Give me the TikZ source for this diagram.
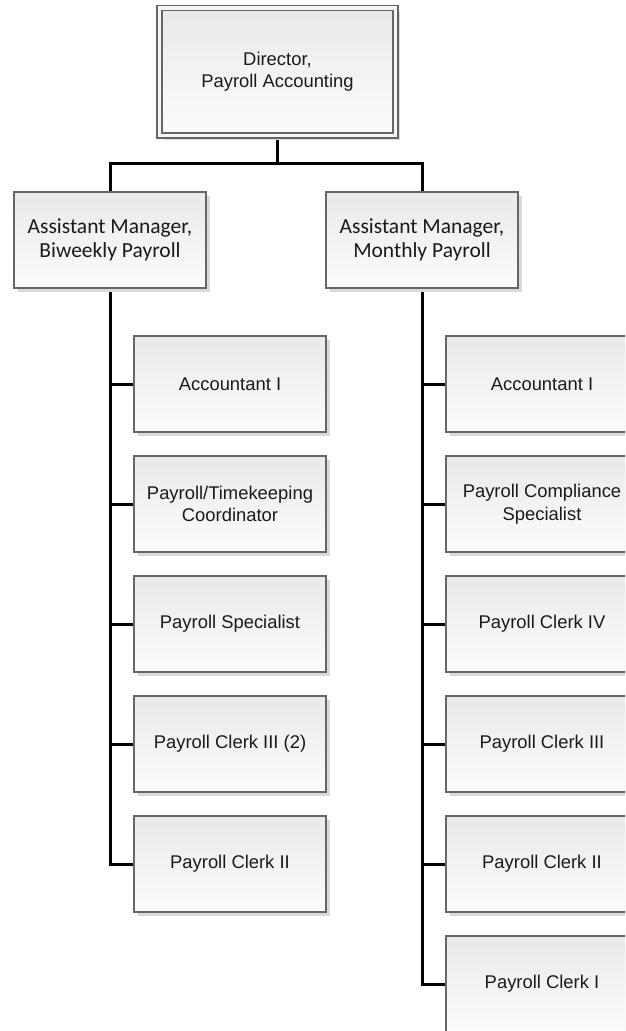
\documentclass[tikz,border=0pt]{standalone}
\usepackage{fontspec}
\setmainfont{Liberation Sans}
\newfontfamily\calibrifont{Carlito}
\usetikzlibrary{shadows,backgrounds}
\definecolor{boxtop}{HTML}{E9E9E9}
\definecolor{boxbot}{HTML}{FCFCFC}
\definecolor{boxborder}{HTML}{666666}
\definecolor{shadowc}{HTML}{DADADA}
\definecolor{textc}{HTML}{1A1A1A}
\begin{document}
\begin{tikzpicture}[x=1pt,y=-1pt,
  orgbox/.style={draw=boxborder, line width=1.2pt, top color=boxtop, bottom color=boxbot,
    minimum width=192pt, minimum height=96pt, align=center, inner sep=0pt, text=textc,
    font=\fontsize{18.4}{22.5}\selectfont,
    drop shadow={shadow xshift=4pt, shadow yshift=-4pt, fill=shadowc, opacity=1}},
  mgrbox/.style={orgbox, font=\calibrifont\fontsize{21.5}{24}\selectfont},
  dirbox/.style={orgbox, minimum width=236pt, minimum height=127.5pt, line width=1.3pt,
    double=white!96!black, double distance=3.7pt},
  conn/.style={draw=black, line width=3pt}]
\clip (0,0) rectangle (625,1031);

\node[dirbox] (dir) at (277.5,71.75) {Director,\\Payroll Accounting};
\node[mgrbox] (amL) at (110,240) {Assistant Manager,\\Biweekly Payroll};
\node[mgrbox] (amR) at (422,240) {Assistant Manager,\\Monthly Payroll};

\node[orgbox] (l1) at (230,384) {Accountant I};
\node[orgbox] (l2) at (230,504) {Payroll/Timekeeping\\Coordinator};
\node[orgbox] (l3) at (230,624) {Payroll Specialist};
\node[orgbox] (l4) at (230,744) {Payroll Clerk III (2)};
\node[orgbox] (l5) at (230,864) {Payroll Clerk II};

\node[orgbox] (r1) at (542,384) {Accountant I};
\node[orgbox] (r2) at (542,504) {Payroll Compliance\\Specialist};
\node[orgbox] (r3) at (542,624) {Payroll Clerk IV};
\node[orgbox] (r4) at (542,744) {Payroll Clerk III};
\node[orgbox] (r5) at (542,864) {Payroll Clerk II};
\node[orgbox] (r6) at (542,984) {Payroll Clerk I};

\coordinate (bus) at (277.5,163);

\begin{pgfonlayer}{background}
\draw[conn] (dir.south) -- (bus);
\draw[conn] (amL.north) |- (bus) -| (amR.north);
\draw[conn] (amL.south) |- (l5.west);
\foreach \n in {l1,l2,l3,l4}
  \draw[conn] (amL.south |- \n.west) -- (\n.west);
\draw[conn] (amR.south) |- (r6.west);
\foreach \n in {r1,r2,r3,r4,r5}
  \draw[conn] (amR.south |- \n.west) -- (\n.west);
\end{pgfonlayer}
\end{tikzpicture}
\end{document}
